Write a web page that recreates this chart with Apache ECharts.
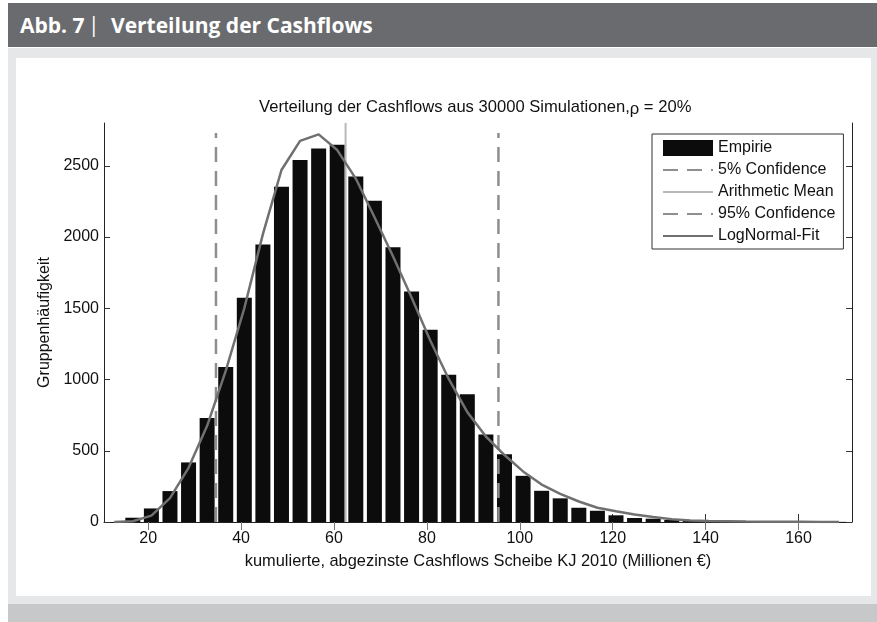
<!DOCTYPE html>
<html>
<head>
<meta charset="utf-8">
<script src="https://cdn.jsdelivr.net/npm/echarts@6/dist/echarts.min.js"></script>
<style>
  html, body { margin: 0; padding: 0; background: #ffffff; }
  body { width: 877px; height: 622px; position: relative; overflow: hidden; }
  .header {
    position: absolute; left: 8px; top: 3px; width: 869px; height: 44px;
    background: #6a6b6f; color: #ffffff;
    font-family: "Open Sans", Lato, sans-serif; font-weight: 700; font-size: 21px;
    line-height: 44px; white-space: nowrap;
  }
  .header .num { position: absolute; left: 12px; top: 0px; }
  .header .bar { position: absolute; left: 80px; top: -1px; font-weight: 400; }
  .header .ttl { position: absolute; left: 103px; top: 0px; }
  .panel { position: absolute; left: 8px; top: 48px; width: 869px; height: 556px; background: #e6e7e8; }
  .sheet { position: absolute; left: 16px; top: 58px; width: 855px; height: 538px; background: #ffffff; }
  .foot { position: absolute; left: 8px; top: 604px; width: 869px; height: 18px; background: #c7c8ca; }
  #chart { position: absolute; left: 0; top: 0; width: 877px; height: 622px; }
</style>
</head>
<body>
<div class="header"><span class="num">Abb. 7</span><span class="bar">|</span><span class="ttl">Verteilung der Cashflows</span></div>
<div class="panel"></div>
<div class="sheet"></div>
<div class="foot"></div>
<div id="chart"></div>
<script>
// Histogram of 30000 simulated cash-flow totals (bin centres in Mio. EUR)
const binCenters = [16.7, 20.7, 24.7, 28.7, 32.7, 36.7, 40.7, 44.7, 48.7, 52.7,
  56.7, 60.7, 64.7, 68.7, 72.7, 76.7, 80.7, 84.7, 88.7, 92.7,
  96.7, 100.7, 104.7, 108.7, 112.7, 116.7, 120.7, 124.7, 128.7, 132.7,
  136.7, 140.7, 144.7, 148.7, 152.7, 156.7, 160.7, 164.7, 168.7];
const counts = [30, 95, 217, 418, 730, 1088, 1573, 1947, 2353, 2540,
  2621, 2647, 2425, 2255, 1928, 1618, 1349, 1034, 896, 614,
  476, 324, 219, 166, 100, 79, 47, 28, 23, 14,
  9, 6, 4, 3, 2, 1, 1, 0, 1];

// Fitted log-normal density, scaled to counts
const fitX = [12.7, 16.7, 20.7, 24.7, 28.7, 32.7, 36.7, 40.7, 44.7, 48.7,
  52.7, 56.7, 60.7, 64.7, 68.7, 72.7, 76.7, 80.7, 84.7, 88.7,
  92.7, 96.7, 100.7, 104.7, 108.7, 112.7, 116.7, 120.7, 124.7, 128.7,
  132.7, 136.7, 140.7, 144.7, 148.7, 152.7, 156.7, 160.7, 164.7, 168.7];
const fitY = [0, 5, 45, 168, 380, 675, 1060, 1500, 2020, 2470,
  2675, 2720, 2610, 2410, 2140, 1865, 1575, 1275, 1004, 771,
  600, 470, 355, 263, 197, 144, 100, 75, 52, 35,
  20, 10, 7, 5, 3, 2, 1, 1, 0, 0];

// Reference lines: quantiles and mean
const conf5 = 34.6;
const meanValue = 62.5;
const conf95 = 95.4;
const confTop = 2730;

const xTicks = [20, 40, 60, 80, 100, 120, 140, 160];
const yTicks = [0, 500, 1000, 1500, 2000, 2500];
const xRange = [10.5, 171.5];
const yRange = [0, 2800];

const FONT = '"Liberation Sans", Arial, sans-serif';
const chart = echarts.init(document.getElementById('chart'), null, { renderer: 'canvas' });

const axisBase = {
  splitLine: { show: false },
  axisLine: { show: true, onZero: false, lineStyle: { color: '#222', width: 1 } }
};
// legend entries for line series: plain line sample, no marker
const noMarker = { color: 'rgba(0,0,0,0)', borderWidth: 0, opacity: 0 };

chart.setOption({
  animation: false,
  title: {
    text: 'Verteilung der Cashflows aus 30000 Simulationen,{r|ρ} = 20%',
    left: 259, top: 96, padding: 0,
    textStyle: {
      fontFamily: FONT, fontSize: 16.6, fontWeight: 'normal', color: '#111',
      rich: { r: { fontFamily: FONT, fontSize: 16.6, color: '#111', padding: [5, 0, 0, 0] } }
    }
  },
  grid: { left: 104, right: 25, top: 123, bottom: 100 },
  legend: {
    orient: 'vertical', left: 652, top: 134,
    padding: [6, 8, 5, 10], itemGap: 6, itemWidth: 50, itemHeight: 16,
    backgroundColor: '#ffffff', borderColor: '#333', borderWidth: 1, borderRadius: 0,
    textStyle: { fontFamily: FONT, fontSize: 16, color: '#111' },
    data: [
      { name: 'Empirie', icon: 'rect' },
      { name: '5% Confidence', itemStyle: noMarker },
      { name: 'Arithmetic Mean', itemStyle: noMarker },
      { name: '95% Confidence', itemStyle: noMarker },
      { name: 'LogNormal-Fit', itemStyle: noMarker }
    ]
  },
  xAxis: [
    Object.assign({}, axisBase, {
      type: 'value', position: 'bottom', min: xRange[0], max: xRange[1],
      axisTick: { inside: true, length: 8, customValues: xTicks, lineStyle: { color: '#333' } },
      axisLabel: { customValues: xTicks, margin: 9, fontFamily: FONT, fontSize: 16, color: '#111',
        formatter: v => String(v) },
      name: 'kumulierte, abgezinste Cashflows Scheibe KJ 2010 (Millionen €)',
      nameLocation: 'middle', nameGap: 31,
      nameTextStyle: { fontFamily: FONT, fontSize: 16.4, color: '#111' }
    }),
    Object.assign({}, axisBase, {
      type: 'value', position: 'top', min: xRange[0], max: xRange[1],
      axisLine: { show: false },
      axisTick: { inside: true, length: 8, customValues: xTicks, lineStyle: { color: '#777' } },
      axisLabel: { show: false }
    })
  ],
  yAxis: [
    Object.assign({}, axisBase, {
      type: 'value', position: 'left', min: yRange[0], max: yRange[1],
      axisTick: { inside: true, length: 6, customValues: yTicks, lineStyle: { color: '#333' } },
      axisLabel: { customValues: yTicks, margin: 5, fontFamily: FONT, fontSize: 16, color: '#111',
        formatter: v => String(v) },
      name: 'Gruppenhäufigkeit', nameLocation: 'middle', nameGap: 43,
      nameTextStyle: { fontFamily: FONT, fontSize: 16, color: '#111' }
    }),
    Object.assign({}, axisBase, {
      type: 'value', position: 'right', min: yRange[0], max: yRange[1],
      axisTick: { inside: true, length: 6, customValues: yTicks, lineStyle: { color: '#333' } },
      axisLabel: { show: false }
    })
  ],
  series: [
    {
      name: 'Empirie', type: 'bar', barWidth: 15,
      itemStyle: { color: '#0c0c0c' },
      data: binCenters.map((c, i) => [c, counts[i]])
    },
    {
      name: '5% Confidence', type: 'line', symbol: 'none',
      lineStyle: { color: '#8e8e8e', width: 2.5, type: [15, 9] },
      itemStyle: { color: '#8e8e8e' },
      data: [[conf5, 0], [conf5, confTop]]
    },
    {
      name: 'Arithmetic Mean', type: 'line', symbol: 'none',
      lineStyle: { color: '#b8b8b8', width: 2 },
      itemStyle: { color: '#b8b8b8' },
      data: [[meanValue, yRange[0]], [meanValue, yRange[1]]]
    },
    {
      name: '95% Confidence', type: 'line', symbol: 'none',
      lineStyle: { color: '#8e8e8e', width: 2.5, type: [15, 9] },
      itemStyle: { color: '#8e8e8e' },
      data: [[conf95, 0], [conf95, confTop]]
    },
    {
      name: 'LogNormal-Fit', type: 'line', symbol: 'none',
      lineStyle: { color: '#707070', width: 2.5 },
      itemStyle: { color: '#707070' },
      data: fitX.map((x, i) => [x, fitY[i]])
    }
  ]
});
</script>
</body>
</html>
